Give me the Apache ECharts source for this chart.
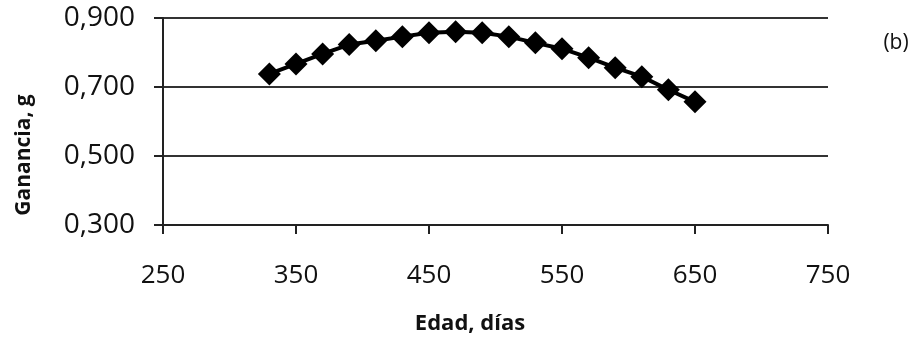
<!DOCTYPE html>
<html><head><meta charset="utf-8">
<script src="https://cdn.jsdelivr.net/npm/echarts@6/dist/echarts.min.js"></script>
<style>html,body{margin:0;padding:0;background:#fff}#c{width:922px;height:338px}</style>
</head><body><div id="c"></div>
<script>
const edadDias = [330,350,370,390,410,430,450,470,490,510,530,550,570,590,610,630,650];
const ganancia = [0.738,0.767,0.796,0.823,0.834,0.846,0.857,0.860,0.857,0.846,0.828,0.811,0.785,0.756,0.730,0.692,0.657];
const xTicks = [250,350,450,550,650,750];
const yTicks = [0.3,0.5,0.7,0.9];
const xName = 'Edad, días';
const yName = 'Ganancia, g';
const panelLabel = '(b)';

const chart = echarts.init(document.getElementById('c'), null, {renderer:'canvas'});
const font = 'Open Sans';
chart.setOption({
  animation:false,
  backgroundColor:'#fff',
  grid:{left:163,right:94,top:18,bottom:113,containLabel:false},
  graphic:[
    {type:'text',x:896,y:43,style:{text:panelLabel,font:'21px "Open Sans"',fill:'#111',align:'center',verticalAlign:'middle'}},
    {type:'text',x:470,y:324,style:{text:xName,font:'bold 22px "Open Sans"',fill:'#111',align:'center',verticalAlign:'middle'}},
    {type:'text',x:24,y:155,rotation:Math.PI/2,style:{text:yName,font:'bold 21px "Open Sans"',fill:'#111',align:'center',verticalAlign:'middle'}}
  ],
  xAxis:{type:'value',min:xTicks[0],max:xTicks[xTicks.length-1],interval:100,
    axisLine:{lineStyle:{color:'#222',width:2}},
    axisTick:{show:true,length:9,lineStyle:{color:'#222',width:2}},
    axisLabel:{margin:38,fontFamily:font,fontSize:26,color:'#111'},
    splitLine:{show:false}},
  yAxis:{type:'value',min:yTicks[0],max:yTicks[yTicks.length-1],interval:0.2,
    axisLine:{show:true,lineStyle:{color:'#222',width:2}},
    axisTick:{show:true,length:9,lineStyle:{color:'#222',width:2}},
    axisLabel:{margin:28,fontFamily:font,fontSize:28,color:'#111',formatter:v=>v.toFixed(3).replace('.',',')},
    splitLine:{show:true,lineStyle:{color:'#333',width:2}}},
  series:[{type:'line',data:edadDias.map((x,i)=>[x,ganancia[i]]),
    symbol:'diamond',symbolSize:23,showAllSymbol:true,
    itemStyle:{color:'#000'},lineStyle:{color:'#000',width:4}}]
});
</script></body></html>
